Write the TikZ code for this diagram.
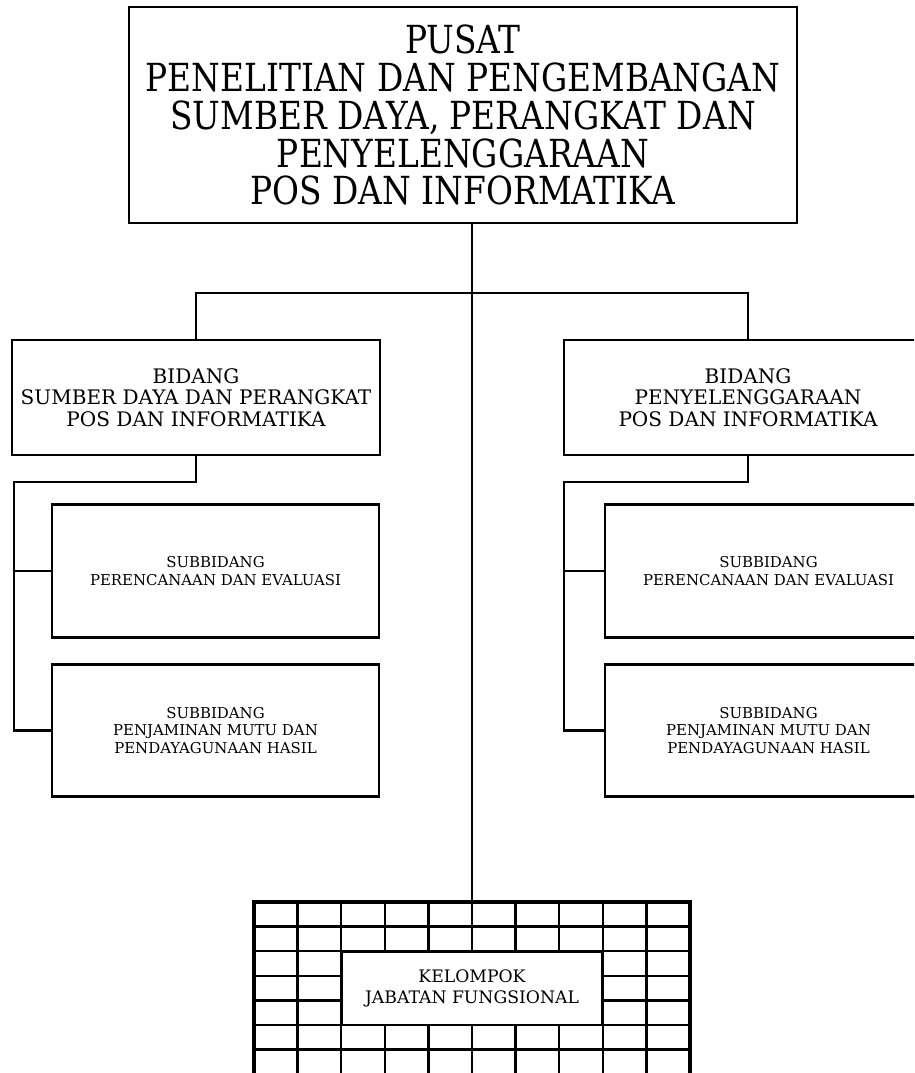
\documentclass[tikz,border=0pt]{standalone}
\usepackage{fontspec}
\setmainfont{DejaVu Serif}
\newfontfamily\headfont[FakeStretch=0.85]{DejaVu Serif}

\begin{document}
\begin{tikzpicture}[x=0.02cm,y=-0.02cm,
  unitbox/.style={draw,line width=1.5pt,inner sep=0pt,outer sep=0pt,align=center},
  pusatbox/.style={unitbox,minimum width=13.36cm,minimum height=4.32cm,font=\headfont\fontsize{22}{21.6}\selectfont},
  bidangbox/.style={unitbox,minimum width=7.36cm,minimum height=2.3cm,font=\fontsize{11.4}{12.4}\selectfont},
  subbox/.style={unitbox,minimum width=6.54cm,minimum height=2.65cm,font=\fontsize{8.5}{10.2}\selectfont},
  link/.style={line width=1.4pt},
  gridline/.style={line width=1.3pt}]

  % page frame (right column and grid run off the page)
  \clip (0,0) rectangle (914,1073);

  % head office
  \node[pusatbox] (pusat) at (463,115)
    {PUSAT\\PENELITIAN DAN PENGEMBANGAN\\SUMBER DAYA, PERANGKAT DAN\\PENYELENGGARAAN\\POS DAN INFORMATIKA};

  % the two fields
  \node[bidangbox] (bid1) at (196,397.5) {BIDANG\\SUMBER DAYA DAN PERANGKAT\\POS DAN INFORMATIKA};
  \node[bidangbox] (bid2) at (748,397.5) {BIDANG\\PENYELENGGARAAN\\POS DAN INFORMATIKA};

  % sub fields, left
  \node[subbox] (sub1a) at (215.5,571) {SUBBIDANG\\PERENCANAAN DAN EVALUASI};
  \node[subbox] (sub1b) at (215.5,730.5) {SUBBIDANG\\PENJAMINAN MUTU DAN\\PENDAYAGUNAAN HASIL};

  % sub fields, right
  \node[subbox] (sub2a) at (768.5,571) {SUBBIDANG\\PERENCANAAN DAN EVALUASI};
  \node[subbox] (sub2b) at (768.5,730.5) {SUBBIDANG\\PENJAMINAN MUTU DAN\\PENDAYAGUNAAN HASIL};

  % functional group grid
  \coordinate (jftop) at (472,902);
  \foreach \i in {1,...,9}
    \draw[gridline] (254+\i*43.6,902) -- ++(0,200);
  \foreach \j in {1,...,6}
    \draw[gridline] (254,902+\j*24.6) -- ++(436,0);
  \draw[line width=2pt] (254,1100) |- (690,902) -- (690,1100);
  \node[unitbox,fill=white,minimum width=5.232cm,minimum height=1.476cm,
    font=\fontsize{9.8}{12}\selectfont] (kelompok) at (472,988.1)
    {KELOMPOK\\JABATAN FUNGSIONAL};

  % connectors
  \draw[link] (pusat.south -| jftop) -- (jftop);
  \draw[link] (bid1.north) -- ++(0,-47) -| (bid2.north);
  \draw[link] (bid1.south) -- ++(0,27) -- ++(-182,0) |- (sub1b.west);
  \draw[link] (sub1a.west) -- ++(-38,0);
  \draw[link] (bid2.south) -- ++(0,27) -- ++(-184,0) |- (sub2b.west);
  \draw[link] (sub2a.west) -- ++(-41,0);

\end{tikzpicture}
\end{document}
